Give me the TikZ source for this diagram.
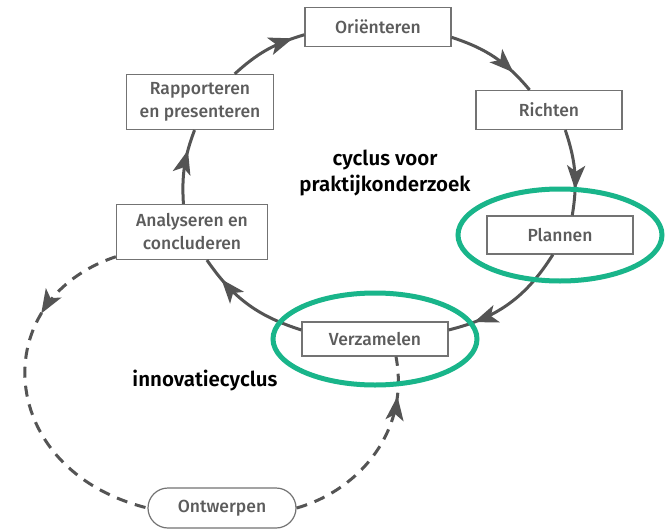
\documentclass[tikz,border=0pt]{standalone}
\usepackage{fontspec}
\setmainfont{Fira Sans}[BoldFont={Fira Sans SemiBold}]
\newfontfamily\medium{Fira Sans Medium}
\usetikzlibrary{arrows.meta,decorations.markings}

\newlength{\du}
\setlength{\du}{1pt}

\definecolor{dialinecolor}{rgb}{0.330000, 0.330000, 0.330000}
\definecolor{boxcolor}{rgb}{0.450000, 0.450000, 0.450000}
\definecolor{textcolor}{rgb}{0.360000, 0.360000, 0.360000}
\definecolor{markcolor}{rgb}{0.100000, 0.710000, 0.540000}

\tikzset{
  stap/.style={draw=boxcolor, line width=1.2\du, fill=white, text=textcolor,
    font=\medium\fontsize{17.5}{23}\selectfont, align=center, inner sep=0pt,
    minimum width=146\du},
  pijl/.style={draw=dialinecolor, line width=3\du, postaction={decorate},
    decoration={markings, mark=at position #1 with {\arrow{Stealth[length=24pt,width=18pt,inset=6pt]}}}},
  stippel/.style={pijl=#1, dash pattern=on 11pt off 8pt},
  omcirkel/.style={draw=markcolor, line width=5\du},
  label/.style={font=\bfseries\fontsize{20.5}{26}\selectfont, align=center}
}

\begin{document}
\begin{tikzpicture}
\pgftransformxscale{1.000000}
\pgftransformyscale{-1.000000}
\useasboundingbox[fill=white] (0\du,0\du) rectangle (666\du,530\du);

% boxes of the cycle
\node[stap, minimum height=39\du] (orienteren) at (378\du,27\du) {Oriënteren};
\node[stap, minimum height=39\du] (richten) at (549\du,110\du) {Richten};
\node[stap, minimum height=38\du] (plannen) at (560\du,235\du) {Plannen};
\node[stap, minimum height=34\du] (verzamelen) at (375\du,339\du) {Verzamelen};
\node[stap, minimum width=151\du, minimum height=55\du] (analyseren) at (192\du,232\du) {Analyseren en\\concluderen};
\node[stap, minimum width=147\du, minimum height=55\du] (rapporteren) at (200\du,102\du) {Rapporteren\\en presenteren};
\node[stap, minimum width=148\du, minimum height=40\du, rounded corners=20\du] (ontwerpen) at (222\du,508\du) {Ontwerpen};

\node[label] (praktijk) at (385\du,173\du) {cyclus voor\\praktijkonderzoek};
\node[label] (innovatie) at (205\du,381\du) {innovatiecyclus};

% cyclus voor praktijkonderzoek
\draw[pijl=0.85] (rapporteren.39) to[bend right=13] (orienteren.186);
\draw[pijl=0.75] (orienteren.352) to[bend right=16] (richten.134);
\draw[pijl=0.7] (richten.309) to[bend right=14] (plannen.58);
\draw[pijl=0.8] (plannen.250) to[bend right=22] (verzamelen.7);
\draw[pijl=0.8] (verzamelen.173) to[bend right=19] (analyseren.298);
\draw[pijl=0.72] (analyseren.107) to[bend right=12] (rapporteren.259);

% innovatiecyclus
\draw[stippel=0.27] (analyseren.198) .. controls (-15\du,300\du) and (-5\du,470\du) .. (ontwerpen.west);
\draw[stippel=0.8] (ontwerpen.east) .. controls (360\du,490\du) and (410\du,430\du) .. (verzamelen.320);

\draw[omcirkel] (plannen) ellipse [x radius=102\du, y radius=46\du];
\draw[omcirkel] (verzamelen) ellipse [x radius=102\du, y radius=46\du];
\end{tikzpicture}
\end{document}
